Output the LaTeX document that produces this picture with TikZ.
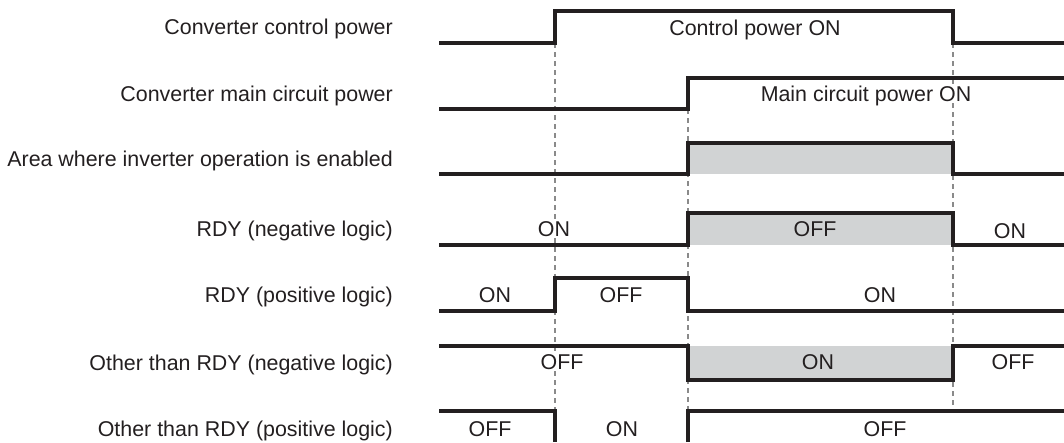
\documentclass[tikz,border=0pt]{standalone}
\usepackage{fontspec}
\setmainfont{Liberation Sans}
\usetikzlibrary{backgrounds}
\definecolor{cink}{HTML}{231F20}
\definecolor{cshade}{HTML}{D1D3D4}
\definecolor{cguide}{HTML}{8A8A8A}
\tikzset{
  every picture/.style={font=\fontsize{21.4}{25}\selectfont, x=1pt, y=-1pt},
  signal/.style={draw=cink, line width=3.2pt},
  guide/.style={draw=cguide, line width=1.2pt, dash pattern=on 5pt off 4pt},
  area/.style={fill=cshade},
  rowlabel/.style={anchor=east, text=cink, inner sep=0pt, text height=15.3pt, text depth=0pt},
  onoff/.style={text=cink, fill=white, inner sep=1.5pt, text height=15.3pt, text depth=0pt},
  onoffgrey/.style={onoff, fill=cshade},
}

\begin{document}
\begin{tikzpicture}
  \useasboundingbox (0,0) rectangle (1064,442);
  \coordinate (ta) at (555,43);
  \coordinate (tb) at (688,109);
  \coordinate (tc) at (953,43);
  \coordinate (tabot) at (555,411);
  \coordinate (tbbot) at (688,411);
  \coordinate (tcbot) at (953,411);
  \node[rowlabel] (ctrl) at (393,27) {Converter control power};
  \node[rowlabel] (main) at (393,94) {Converter main circuit power};
  \node[rowlabel] (area) at (393,159) {Area where inverter operation is enabled};
  \node[rowlabel] (rdyn) at (393,229) {RDY (negative logic)};
  \node[rowlabel] (rdyp) at (393,295) {RDY (positive logic)};
  \node[rowlabel] (othn) at (393,363) {Other than RDY (negative logic)};
  \node[rowlabel] (othp) at (393,429) {Other than RDY (positive logic)};
  \node[onoff] (ctrlon) at (755,28) {Control power ON};
  \node[onoff] (mainon) at (866,94) {Main circuit power ON};
  \node[onoff] (rdyna) at (554,229) {ON};
  \node[onoffgrey] (rdynb) at (815,229) {OFF};
  \node[onoff] (rdync) at (1010,231) {ON};
  \node[onoff] (rdypa) at (495,295) {ON};
  \node[onoff] (rdypb) at (621,295) {OFF};
  \node[onoff] (rdypc) at (880,295) {ON};
  \node[onoff] (othna) at (562,362) {OFF};
  \node[onoffgrey] (othnb) at (818,362) {ON};
  \node[onoff] (othnc) at (1013,362) {OFF};
  \node[onoff] (othpa) at (490,429) {OFF};
  \node[onoff] (othpb) at (622,429) {ON};
  \node[onoff] (othpc) at (885,429) {OFF};
  \begin{scope}[on background layer]
    \fill[area] (688,143) rectangle (953,174);
    \fill[area] (688,213) rectangle (953,245);
    \fill[area] (688,346) rectangle (953,380);
    \draw[guide] (ta) -- (ta |- rdyna.north) (ta |- rdyna.south) -- (ta |- othna.north) (ta |- othna.south) -- (tabot);
    \draw[guide] (tb) -- (tbbot);
    \draw[guide] (tc) -- (tc |- mainon.north) (tc |- mainon.south) -- (tcbot);
  \end{scope}
  \draw[signal] (439,43) -- (ta) -- (555,11) -- (953,11) -- (tc) -- (1064,43);
  \draw[signal] (439,109) -- (tb) -- (688,78) -- (1064,78);
  \draw[signal] (439,174) -- (688,174) -- (688,143) -- (953,143) -- (953,174) -- (1064,174);
  \draw[signal] (439,245) -- (688,245) -- (688,213) -- (953,213) -- (953,245) -- (1064,245);
  \draw[signal] (439,311) -- (555,311) -- (555,278) -- (688,278) -- (688,311) -- (1064,311);
  \draw[signal] (439,346) -- (688,346) -- (688,380) -- (953,380) -- (953,346) -- (1064,346);
  \draw[signal] (439,411) -- (tabot) -- (555,442);
  \draw[signal] (688,442) -- (tbbot) -- (1064,411);
\end{tikzpicture}
\end{document}
